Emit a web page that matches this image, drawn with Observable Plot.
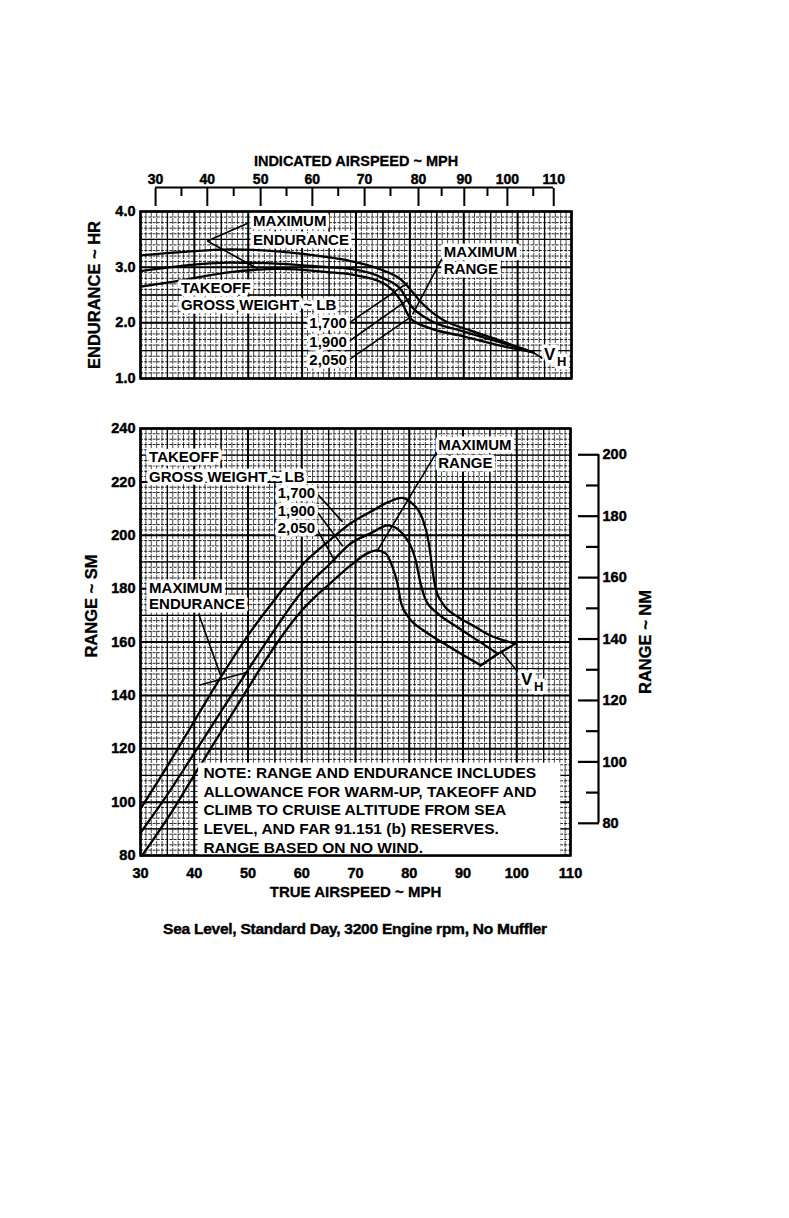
<!DOCTYPE html>
<html><head><meta charset="utf-8">
<script src="https://cdn.jsdelivr.net/npm/d3@7"></script>
<script src="https://cdn.jsdelivr.net/npm/@observablehq/plot@0.6"></script>
<style>
body{margin:0;background:#fff;}
#wrap{position:relative;width:789px;height:1218px;font-family:"Liberation Sans",Arial,sans-serif;color:#000;}
#topchart{position:absolute;left:0;top:0;}
#bottomchart{position:absolute;left:0;top:400px;}
#caption{position:absolute;left:0;width:710px;top:920px;text-align:center;font-weight:bold;font-size:15.5px;line-height:18px;letter-spacing:-0.25px;-webkit-text-stroke:0.4px #000;}
g[aria-label$="tick label"] text{stroke:#000;stroke-width:0.45px;}
</style></head>
<body>
<div id="wrap"><div id="topchart"></div><div id="bottomchart"></div>
<div id="caption">Sea Level, Standard Day, 3200 Engine rpm, No Muffler</div></div>
<script>
// ---------- data ----------
const NM = 1.15078; // statute miles per nautical mile
// top chart: true airspeed (mph) vs endurance (hr)
const endurance1700 = [[30,3.21],[37.4,3.27],[46.7,3.32],[56,3.28],[64.7,3.18],[69,3.11],[75.1,2.94],[78.3,2.78],[80.1,2.6],[82,2.38],[85.7,2.08],[91.3,1.86],[96.8,1.68],[102.9,1.47]];
const endurance1900 = [[30,2.93],[37.4,3.02],[46.7,3.08],[56,3.06],[64.7,3.0],[69,2.97],[75.1,2.8],[78.3,2.6],[80.1,2.32],[83.8,2.04],[89.4,1.86],[96.8,1.65],[102.9,1.47]];
const endurance2050 = [[30,2.65],[37.4,2.76],[46.7,2.91],[56,2.97],[64.7,2.91],[69,2.87],[75.1,2.71],[78.3,2.4],[80.1,2.08],[83.8,1.9],[89.4,1.77],[96.8,1.59],[102.9,1.47]];
// bottom chart: true airspeed (mph) vs range (statute miles)
const range1700 = [[30,97.5],[35,113.5],[40,130.3],[45,147],[50,162.5],[55,176],[60,188.7],[65.3,198.3],[69.1,204.5],[72.8,208.8],[76,212.3],[78.6,214],[80.2,212.5],[82.5,206],[83.6,197.5],[84.3,187.4],[84.9,180],[86.2,174.5],[89,169.5],[92,166],[95,162.5],[99.8,159.4]];
const range1900 = [[30,88.5],[35,102.8],[40,118.4],[45,134],[50,149.6],[55,164.7],[60,178.8],[65.3,189.4],[69.1,196.9],[72.8,200.7],[76.1,203.7],[79.7,198.1],[81.2,190.6],[82.1,182],[83.1,175.6],[85.3,170.7],[89,165.5],[92.7,160.6],[96.5,155.6]];
const range2050 = [[30.3,80],[35,93.8],[40,110.1],[45,126.4],[50,142.7],[55,158.5],[60,171.8],[65.3,182],[69.1,188.7],[72.2,193.2],[73.9,194.3],[75.6,193.2],[76.9,188],[77.8,182],[78.5,174.5],[79.9,169.2],[82.7,164.3],[86.4,159.5],[90.1,155],[93.3,151.2]];
const vhLocus = [[93.3,151.2],[96.5,155.6],[99.8,159.4]];
// axis ticks
const tasTicks = [30,40,50,60,70,80,90,100,110];
const endTicks = [1,2,3,4];
const rangeTicks = [80,100,120,140,160,180,200,220,240];
const nmTicks = [80,100,120,140,160,180,200];
const nmMinor = [90,110,130,150,170,190];
const iasTicks = [30,40,50,60,70,80,90,100,110];
const iasAtTas = [32.8,42.4,52.3,61.9,71.6,81.6,90.1,98.1,106.7];
const iasMinorAtTas = [37.6,47.3,57.1,66.7,76.4,85.9,94.4,102.9];

// ---------- annotation layout (data units) ----------
const topLabels = [
  {t:"MAXIMUM", x:50.9, y:3.82},{t:"ENDURANCE", x:50.9, y:3.49},
  {t:"TAKEOFF", x:37.5, y:2.62},{t:"GROSS WEIGHT ~ LB", x:37.5, y:2.31},
  {t:"MAXIMUM", x:86.3, y:3.27},{t:"RANGE", x:86.3, y:2.96}
];
const topWeights = [{t:"1,700",x:68.3,y:1.99},{t:"1,900",x:68.3,y:1.65},{t:"2,050",x:68.3,y:1.32}];
const topPointers = [
  {x1:49.9,y1:3.79,x2:42.4,y2:3.47},{x1:42.4,y1:3.47,x2:51.8,y2:2.97},
  {x1:86.2,y1:3.2,x2:80.5,y2:2.15},
  {x1:68.6,y1:1.99,x2:79.6,y2:2.72},{x1:68.6,y1:1.66,x2:80.1,y2:2.45},{x1:68.6,y1:1.33,x2:80.4,y2:2.12},
  {x1:102.9,y1:1.47,x2:104.6,y2:1.36}
];
const bottomLabels = [
  {t:"TAKEOFF", x:31.6, y:229.1},{t:"GROSS WEIGHT ~ LB", x:31.6, y:221.6},
  {t:"MAXIMUM", x:85.4, y:233.6},{t:"RANGE", x:85.4, y:226.9},
  {t:"MAXIMUM", x:31.6, y:180.1},{t:"ENDURANCE", x:31.6, y:174.1}
];
const bottomWeights = [{t:"1,700",x:62.5,y:215.7},{t:"1,900",x:62.5,y:209.0},{t:"2,050",x:62.5,y:202.5}];
const bottomPointers = [
  {x1:62.8,y1:215.7,x2:67.6,y2:205},{x1:62.8,y1:209,x2:67.6,y2:196},{x1:62.8,y1:202.4,x2:66.3,y2:189.8},
  {x1:85.3,y1:231.8,x2:74.1,y2:194.3},
  {x1:40.8,y1:170.7,x2:44.9,y2:147.5},{x1:40.9,y1:143.8,x2:49.5,y2:148.5},
  {x1:97.2,y1:156.1,x2:100.4,y2:148.4}
];
const noteLines = ["NOTE: RANGE AND ENDURANCE INCLUDES","ALLOWANCE FOR WARM-UP, TAKEOFF AND","CLIMB TO CRUISE ALTITUDE FROM SEA","LEVEL, AND FAR 91.151 (b) RESERVES.","RANGE BASED ON NO WIND."];
const noteY = [110.8,103.7,96.9,90.1,82.7];
const noteBox = {x1:40.8, x2:108.2, y1:80, y2:114.6};

// ---------- helpers ----------
const FONT = '"Liberation Sans", Arial, sans-serif';
function gridMarks(xFine, xMid, xMajor, yFine, yMid, yMajor){
  return [
    Plot.ruleX(xFine, {stroke:"#000", strokeWidth:0.9, strokeOpacity:0.8, strokeDasharray:"6,1"}),
    Plot.ruleY(yFine, {stroke:"#000", strokeWidth:1, strokeOpacity:0.85, strokeDasharray:"3,1.2"}),
    Plot.ruleX(xMid, {stroke:"#000", strokeWidth:1.3}), Plot.ruleY(yMid, {stroke:"#000", strokeWidth:1.3}),
    Plot.ruleX(xMajor, {stroke:"#000", strokeWidth:2}), Plot.ruleY(yMajor, {stroke:"#000", strokeWidth:2})
  ];
}
const halo = {stroke:"white", strokeWidth:7, fill:"black", fontSize:15, fontWeight:"bold", lineAnchor:"middle"};
const curve = (d) => Plot.line(d, {x:p=>p[0], y:p=>p[1], curve:"monotone-x", stroke:"#000", strokeWidth:2.3});
const heavy = {fill:"#000", stroke:"#000", strokeWidth:0.3, fontWeight:"bold"};
const ylab = {rotate:-90, textAnchor:"middle", fontSize:16.5, ...heavy};

// ---------- top chart ----------
const topPlot = Plot.plot({
  width:789, height:400, marginLeft:140, marginRight:218, marginTop:211, marginBottom:22,
  x:{domain:[30,110]}, y:{domain:[1,4]},
  style:{fontFamily:FONT, fontWeight:"bold", fontSize:"14px", color:"#000", background:"transparent", overflow:"visible"},
  marks:[
    ...gridMarks(d3.range(30,111,1), d3.range(35,110,10), tasTicks, d3.range(1,4.001,0.1), [1.5,2.5,3.5], endTicks),
    curve(endurance1700), curve(endurance1900), curve(endurance2050),
    Plot.link(topPointers, {x1:"x1",y1:"y1",x2:"x2",y2:"y2", stroke:"#000", strokeWidth:1.6}),
    Plot.text(topLabels, {x:"x", y:"y", text:"t", textAnchor:"start", ...halo}),
    Plot.text(topWeights, {x:"x", y:"y", text:"t", textAnchor:"end", ...halo}),
    Plot.text(["V"], {x:[104.9], y:[1.43], textAnchor:"start", ...halo, fontSize:17}),
    Plot.text(["H"], {x:[107.3], y:[1.3], textAnchor:"start", ...halo, fontSize:13}),
    Plot.frame({stroke:"#000", strokeWidth:2.5}),
    Plot.axisY({ticks:endTicks, tickFormat:d3.format(".1f"), tickSize:0, tickPadding:5, label:null, fontSize:14.5, fontWeight:"bold"}),
    Plot.axisX({anchor:"top", ticks:iasAtTas, tickFormat:(d,i)=>iasTicks[i], tickSize:18, dy:-6, tickPadding:4, label:null, fontSize:14, fontWeight:"bold", strokeWidth:2}),
    Plot.axisX({anchor:"top", ticks:iasMinorAtTas, tickFormat:()=>"", tickSize:8, dy:-16, label:null, strokeWidth:2}),
    Plot.ruleY([4], {x1:iasAtTas[0], x2:iasAtTas[iasAtTas.length-1], dy:-24, stroke:"#000", strokeWidth:2}),
    Plot.text(["INDICATED AIRSPEED ~ MPH"], {frameAnchor:"top", dy:-56, fontSize:14.5, ...heavy}),
    Plot.text(["ENDURANCE ~ HR"], {frameAnchor:"left", dx:-46, ...ylab})
  ]
});
document.getElementById("topchart").append(topPlot);

// ---------- bottom chart ----------
const bottomPlot = Plot.plot({
  width:789, height:510, marginLeft:140, marginRight:219, marginTop:28, marginBottom:55,
  x:{domain:[30,110]}, y:{domain:[80,240]},
  style:{fontFamily:FONT, fontWeight:"bold", fontSize:"14px", color:"#000", background:"transparent", overflow:"visible"},
  marks:[
    ...gridMarks(d3.range(30,111,1), d3.range(35,110,10), tasTicks, d3.range(80,241,2), d3.range(90,240,20), rangeTicks),
    curve(range1700), curve(range1900), curve(range2050),
    Plot.line(vhLocus, {x:p=>p[0], y:p=>p[1], stroke:"#000", strokeWidth:2.3}),
    Plot.link(bottomPointers, {x1:"x1",y1:"y1",x2:"x2",y2:"y2", stroke:"#000", strokeWidth:1.6}),
    Plot.text(bottomLabels, {x:"x", y:"y", text:"t", textAnchor:"start", ...halo}),
    Plot.text(bottomWeights, {x:"x", y:"y", text:"t", textAnchor:"end", ...halo}),
    Plot.text(["V"], {x:[100.8], y:[145.8], textAnchor:"start", ...halo, fontSize:17}),
    Plot.text(["H"], {x:[103.2], y:[143.2], textAnchor:"start", ...halo, fontSize:13}),
    Plot.rect([noteBox], {x1:"x1", x2:"x2", y1:"y1", y2:"y2", fill:"white"}),
    Plot.text(noteLines, {x:()=>noteBox.x1 + 0.9, y:(d,i)=>noteY[i], text:d=>d, textAnchor:"start", fontSize:15.5, fontWeight:"bold", lineAnchor:"middle"}),
    Plot.frame({stroke:"#000", strokeWidth:2.5}),
    Plot.axisY({ticks:rangeTicks, tickSize:0, tickPadding:5, label:null, fontSize:14.5, fontWeight:"bold"}),
    Plot.axisX({ticks:tasTicks, tickSize:0, tickPadding:12, label:null, fontSize:14.5, fontWeight:"bold"}),
    Plot.axisY({anchor:"right", ticks:nmTicks.map(v=>v*NM), tickFormat:d=>Math.round(d/NM), tickSize:21, dx:7, tickPadding:4, label:null, fontSize:14.5, fontWeight:"bold", strokeWidth:2.2}),
    Plot.axisY({anchor:"right", ticks:nmMinor.map(v=>v*NM), tickFormat:()=>"", tickSize:13, dx:15, label:null, strokeWidth:2.2}),
    Plot.ruleX([110], {y1:nmTicks[0]*NM, y2:nmTicks[nmTicks.length-1]*NM, dx:28, stroke:"#000", strokeWidth:2.2}),
    Plot.text(["TRUE AIRSPEED ~ MPH"], {frameAnchor:"bottom", dy:41, fontSize:15, ...heavy}),
    Plot.text(["RANGE ~ SM"], {frameAnchor:"left", dx:-49, dy:-36, ...ylab}),
    Plot.text(["RANGE ~ NM"], {frameAnchor:"right", dx:75, dy:0, ...ylab})
  ]
});
document.getElementById("bottomchart").append(bottomPlot);
</script>
</body></html>
